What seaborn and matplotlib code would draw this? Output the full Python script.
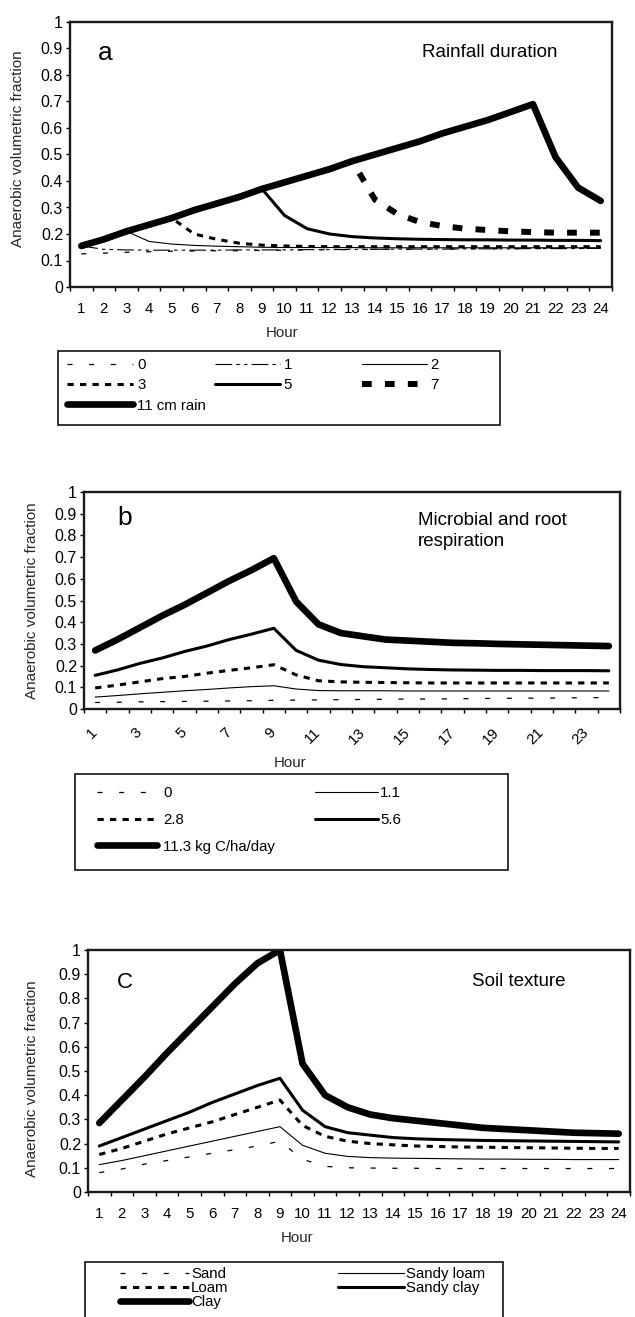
import numpy as np
import pandas as pd
import matplotlib
matplotlib.use("Agg")
import matplotlib.pyplot as plt
import seaborn as sns
from matplotlib.patches import Rectangle

# ---------------- data ----------------
hours = list(range(1, 25))
y_ticks = [0, 0.1, 0.2, 0.3, 0.4, 0.5, 0.6, 0.7, 0.8, 0.9, 1.0]
y_tick_labels = ["0", "0.1", "0.2", "0.3", "0.4", "0.5", "0.6", "0.7", "0.8", "0.9", "1"]
x_tick_labels = [str(h) for h in hours]
b_label_hours = [1, 3, 5, 7, 9, 11, 13, 15, 17, 19, 21, 23]

# panel a: rainfall duration
rain_labels = ["0", "1", "2", "3", "5", "7", "11 cm rain"]
rain_0 = [0.125, 0.128, 0.131, 0.133, 0.135, 0.136, 0.137, 0.137, 0.138, 0.139, 0.140, 0.141,
          0.141, 0.142, 0.142, 0.143, 0.143, 0.144, 0.144, 0.145, 0.145, 0.145, 0.146, 0.146]
rain_1 = [0.155, 0.142, 0.140, 0.139, 0.139, 0.139, 0.139, 0.140, 0.140, 0.140, 0.141, 0.141,
          0.142, 0.142, 0.143, 0.143, 0.143, 0.144, 0.144, 0.144, 0.145, 0.145, 0.145, 0.146]
rain_2 = [0.155, 0.180, 0.210, 0.172, 0.162, 0.157, 0.154, 0.152, 0.150, 0.149, 0.149, 0.149,
          0.149, 0.148, 0.148, 0.148, 0.148, 0.148, 0.148, 0.148, 0.148, 0.148, 0.148, 0.148]
rain_3 = [0.155, 0.180, 0.210, 0.235, 0.260, 0.200, 0.180, 0.165, 0.158, 0.155, 0.153, 0.152,
          0.152, 0.152, 0.152, 0.152, 0.152, 0.152, 0.152, 0.152, 0.152, 0.152, 0.152, 0.152]
rain_5 = [0.155, 0.180, 0.210, 0.235, 0.260, 0.290, 0.315, 0.340, 0.370, 0.270, 0.220, 0.200,
          0.190, 0.185, 0.182, 0.180, 0.179, 0.178, 0.178, 0.177, 0.177, 0.176, 0.176, 0.175]
rain_7 = [0.155, 0.180, 0.210, 0.235, 0.260, 0.290, 0.315, 0.340, 0.370, 0.395, 0.420, 0.445,
          0.475, 0.330, 0.275, 0.245, 0.230, 0.220, 0.215, 0.210, 0.207, 0.205, 0.205, 0.205]
rain_11 = [0.155, 0.180, 0.210, 0.235, 0.260, 0.290, 0.315, 0.340, 0.370, 0.395, 0.420, 0.445,
           0.475, 0.500, 0.525, 0.550, 0.580, 0.605, 0.630, 0.660, 0.690, 0.490, 0.375, 0.325]

# panel b: microbial and root respiration
resp_labels = ["0", "1.1", "2.8", "5.6", "11.3 kg C/ha/day"]
resp_0 = [0.030, 0.031, 0.033, 0.034, 0.035, 0.036, 0.037, 0.038, 0.040, 0.041, 0.042, 0.043,
          0.044, 0.045, 0.046, 0.046, 0.047, 0.048, 0.049, 0.050, 0.050, 0.051, 0.052, 0.053]
resp_11 = [0.055, 0.062, 0.070, 0.077, 0.084, 0.090, 0.097, 0.103, 0.107, 0.092, 0.085, 0.084,
           0.084, 0.084, 0.083, 0.083, 0.083, 0.083, 0.083, 0.083, 0.083, 0.083, 0.083, 0.083]
resp_28 = [0.097, 0.110, 0.125, 0.140, 0.150, 0.165, 0.178, 0.190, 0.204, 0.157, 0.130, 0.125,
           0.123, 0.122, 0.121, 0.120, 0.120, 0.120, 0.120, 0.120, 0.120, 0.120, 0.120, 0.120]
resp_56 = [0.155, 0.180, 0.210, 0.235, 0.265, 0.290, 0.320, 0.345, 0.372, 0.270, 0.225, 0.205,
           0.195, 0.190, 0.185, 0.182, 0.180, 0.179, 0.178, 0.178, 0.177, 0.177, 0.177, 0.176]
resp_113 = [0.270, 0.320, 0.375, 0.430, 0.480, 0.535, 0.590, 0.640, 0.695, 0.495, 0.390, 0.350,
            0.335, 0.320, 0.315, 0.310, 0.305, 0.303, 0.300, 0.298, 0.296, 0.294, 0.292, 0.290]

# panel c: soil texture
soil_labels = ["Sand", "Sandy loam", "Loam", "Sandy clay", "Clay"]
soil_sand = [0.080, 0.095, 0.115, 0.130, 0.145, 0.160, 0.175, 0.190, 0.210, 0.135, 0.106, 0.100,
             0.099, 0.098, 0.098, 0.097, 0.097, 0.097, 0.097, 0.097, 0.097, 0.097, 0.097, 0.097]
soil_sandy_loam = [0.113, 0.130, 0.150, 0.170, 0.190, 0.210, 0.230, 0.250, 0.270, 0.193, 0.160, 0.147,
                   0.142, 0.140, 0.139, 0.138, 0.137, 0.136, 0.136, 0.135, 0.135, 0.134, 0.134, 0.134]
soil_loam = [0.155, 0.180, 0.210, 0.240, 0.265, 0.290, 0.320, 0.350, 0.380, 0.275, 0.230, 0.210,
             0.200, 0.195, 0.190, 0.188, 0.186, 0.185, 0.184, 0.183, 0.182, 0.181, 0.180, 0.180]
soil_sandy_clay = [0.190, 0.225, 0.260, 0.295, 0.330, 0.370, 0.405, 0.440, 0.470, 0.338, 0.270, 0.245,
                   0.235, 0.225, 0.220, 0.217, 0.215, 0.213, 0.212, 0.211, 0.210, 0.209, 0.208, 0.207]
soil_clay = [0.285, 0.380, 0.475, 0.575, 0.670, 0.765, 0.860, 0.945, 1.000, 0.530, 0.400, 0.350,
             0.320, 0.305, 0.295, 0.285, 0.275, 0.265, 0.260, 0.255, 0.250, 0.245, 0.243, 0.241]

# ---------------- styles ----------------
sns.set_theme(style="white")
plt.rcParams["font.family"] = ["Liberation Sans", "DejaVu Sans"]
plt.rcParams["lines.scale_dashes"] = False
plt.rcParams["text.color"] = "black"

THIN_DASH = (0.9, (0, (3.6, 12.0)))
LONG_DASH_DOT = (0.8, (0, (12, 3, 2.5, 3, 2.5, 3)))
THIN = (0.8, "-")
MED_DASH = (2.2, (0, (4.5, 4.5)))
MED = (2.2, "-")
THICK_DASH = (4.3, (0, (7.0, 9.5)))
THICK = (4.8, "-")

W, H = 635, 1317
fig = plt.figure(figsize=(W / 100, H / 100), dpi=100)
fig.patch.set_facecolor("white")


def px_axes(x0, x1, y0, y1):
    return fig.add_axes([x0 / W, 1 - y1 / H, (x1 - x0) / W, (y1 - y0) / H])


def draw(ax, series):
    handles = {}
    for label, vals, style in series:
        lw, ls = style
        df = pd.DataFrame({"Hour": hours, "frac": vals})
        sns.lineplot(data=df, x="Hour", y="frac", ax=ax, color="black", lw=lw,
                     linestyle=ls, label=label, errorbar=None,
                     solid_joinstyle="round", solid_capstyle="round",
                     dash_capstyle="butt")
    for h, l in zip(*ax.get_legend_handles_labels()):
        handles[l] = h
    if ax.get_legend() is not None:
        ax.get_legend().remove()
    return handles


def style_axes(ax, xlim, label_hours, rotate, xlabel_xy, ylabel_xy, xpad):
    ax.set_ylim(0, 1)
    ax.set_xlim(*xlim)
    ax.set_yticks(y_ticks)
    ax.set_yticklabels(y_tick_labels, fontsize=11.5)
    ax.set_xticks([h - 0.5 for h in hours] + [24.5])
    ax.set_xticklabels([])
    ax.set_xticks(label_hours, minor=True)
    if rotate:
        ax.set_xticklabels([str(h) for h in label_hours], minor=True, fontsize=11,
                           rotation=45, ha="right", va="center", rotation_mode="anchor")
    else:
        ax.set_xticklabels([str(h) for h in label_hours], minor=True, fontsize=10.8)
    ax.tick_params(axis="x", which="major", length=3, width=1, direction="out",
                   color="black", bottom=True)
    ax.tick_params(axis="x", which="minor", length=0, pad=xpad, colors="black")
    ax.tick_params(axis="y", which="major", length=3, width=1, direction="out",
                   color="black", left=True, pad=2, colors="black")
    for s in ax.spines.values():
        s.set_visible(True)
        s.set_color("#1a1a1a")
        s.set_linewidth(1.7)
    ax.set_xlabel("Hour", fontsize=10.8)
    ax.xaxis.label.set_va("center")
    ax.xaxis.set_label_coords(*xlabel_xy)
    ax.set_ylabel("Anaerobic volumetric fraction", fontsize=11)
    ax.yaxis.label.set_va("center")
    ax.yaxis.set_label_coords(*ylabel_xy)
    ax.set_facecolor("white")
    ax.grid(False)


def col_legend(handles, labels, x_px, ytop_px, fs, hl, htp, lsp):
    fig.legend([handles[l] for l in labels], labels, loc="upper left",
               bbox_to_anchor=(x_px / W, 1 - ytop_px / H), bbox_transform=fig.transFigure,
               frameon=False, borderpad=0, borderaxespad=0, handlelength=hl,
               handletextpad=htp, labelspacing=lsp, fontsize=fs)


def frame(x0, x1, y0, y1):
    fig.add_artist(Rectangle((x0 / W, 1 - y1 / H), (x1 - x0) / W, (y1 - y0) / H,
                             transform=fig.transFigure, fill=False, ec="black", lw=1.1))


# ---------------- panel a ----------------
ax_a = px_axes(70, 612, 22, 287)
hand_a = draw(ax_a, [
    (rain_labels[0], rain_0, THIN_DASH),
    (rain_labels[1], rain_1, LONG_DASH_DOT),
    (rain_labels[2], rain_2, THIN),
    (rain_labels[3], rain_3, MED_DASH),
    (rain_labels[4], rain_5, MED),
    (rain_labels[5], rain_7, THICK_DASH),
    (rain_labels[6], rain_11, THICK),
])
style_axes(ax_a, (0.5, 24.5), hours, False, ((282 - 70) / 542, (287 - 333) / 265),
           ((18 - 70) / 542, (287 - 149) / 265), 11)
ax_a.text((105 - 70) / 542, (287 - 53) / 265, "a", transform=ax_a.transAxes,
          fontsize=19, ha="center", va="center")
ax_a.text((422 - 70) / 542, (287 - 53) / 265, "Rainfall duration", transform=ax_a.transAxes,
          fontsize=13.5, ha="left", va="center")

frame(58, 500, 351, 425)
col_legend(hand_a, [rain_labels[0], rain_labels[3], rain_labels[6]], 67, 358, 10.8, 4.4, 0.27, 0.42)
col_legend(hand_a, [rain_labels[1], rain_labels[4]], 215, 358, 10.8, 4.3, 0.27, 0.42)
col_legend(hand_a, [rain_labels[2], rain_labels[5]], 362, 358, 10.8, 4.3, 0.27, 0.42)

# ---------------- panel b ----------------
ax_b = px_axes(84, 620, 492, 709)
hand_b = draw(ax_b, [
    (resp_labels[0], resp_0, THIN_DASH),
    (resp_labels[1], resp_11, THIN),
    (resp_labels[2], resp_28, MED_DASH),
    (resp_labels[3], resp_56, MED),
    (resp_labels[4], resp_113, THICK),
])
style_axes(ax_b, (0.5, 24.5), b_label_hours, True, ((290 - 84) / 536, (709 - 763) / 217),
           ((32 - 84) / 536, (709 - 601) / 217), 15)
ax_b.text((125 - 84) / 536, (709 - 518) / 217, "b", transform=ax_b.transAxes,
          fontsize=19, ha="center", va="center")
ax_b.text((418 - 84) / 536, (709 - 512) / 217, "Microbial and root\nrespiration",
          transform=ax_b.transAxes, fontsize=13.5, ha="left", va="top", linespacing=1.3)

frame(75, 508, 774, 870)
col_legend(hand_b, [resp_labels[0], resp_labels[2], resp_labels[4]], 97, 786, 10.8, 4.0, 0.4, 0.85)
col_legend(hand_b, [resp_labels[1], resp_labels[3]], 315, 786, 10.8, 4.2, 0.15, 0.85)

# ---------------- panel c ----------------
ax_c = px_axes(88, 630, 950, 1192)
hand_c = draw(ax_c, [
    (soil_labels[0], soil_sand, THIN_DASH),
    (soil_labels[1], soil_sandy_loam, THIN),
    (soil_labels[2], soil_loam, MED_DASH),
    (soil_labels[3], soil_sandy_clay, MED),
    (soil_labels[4], soil_clay, THICK),
])
style_axes(ax_c, (0.5, 24.3), hours, False, ((297 - 88) / 542, (1192 - 1238) / 242),
           ((32 - 88) / 542, (1192 - 1079) / 242), 11)
ax_c.text((125 - 88) / 542, (1192 - 982) / 242, "C", transform=ax_c.transAxes,
          fontsize=16, ha="center", va="center")
ax_c.text((472 - 88) / 542, (1192 - 981) / 242, "Soil texture", transform=ax_c.transAxes,
          fontsize=13.5, ha="left", va="center")

frame(85, 503, 1262, 1340)
col_legend(hand_c, [soil_labels[0], soil_labels[2], soil_labels[4]], 120, 1267, 10.8, 4.6, 0.15, 0.0)
col_legend(hand_c, [soil_labels[1], soil_labels[3]], 338, 1267, 10.8, 4.4, 0.15, 0.0)

fig.savefig("out.png", dpi=100, facecolor="white")
